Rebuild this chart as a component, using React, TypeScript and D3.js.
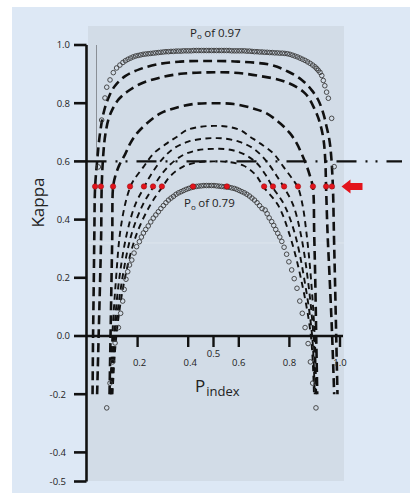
import React from "react";
import * as d3 from "d3";

type Pt = [number, number];

// ---- axis ticks ----
const yTicks = [1.0, 0.8, 0.6, 0.4, 0.2, 0.0, -0.2, -0.4, -0.5];
const yTickLabels = ["1.0", "0.8", "0.6", "0.4", "0.2", "0.0", "-0.2", "-0.4", "-0.5"];
const xTicks = [0.2, 0.4, 0.5, 0.6, 0.8, 1.0];
const xTickLabels = ["0.2", "0.4", "0.5", "0.6", "0.8", "1.0"];
const xTickRaised = [false, false, true, false, false, false];

// ---- reference line & marked crossings ----
const referenceKappa = 0.6;
const markedKappa = 0.514;
const markedPindex = [0.032, 0.055, 0.103, 0.17, 0.225, 0.261, 0.296, 0.419, 0.553, 0.7, 0.735, 0.779, 0.834, 0.893, 0.945, 0.968];

// ---- Po = 0.97 (open circles) ----
const poHighCircles: Pt[] = [
  [0.045, 0.581], [0.058, 0.742], [0.071, 0.818], [0.078, 0.855], [0.091, 0.88],
  [0.104, 0.905], [0.117, 0.921], [0.13, 0.931], [0.142, 0.94], [0.152, 0.946], [0.162, 0.951], [0.172, 0.955],
  [0.182, 0.959], [0.192, 0.962], [0.202, 0.964], [0.212, 0.966], [0.222, 0.968], [0.232, 0.969], [0.242, 0.97],
  [0.252, 0.971], [0.262, 0.972], [0.272, 0.973], [0.282, 0.974], [0.292, 0.975], [0.302, 0.976], [0.312, 0.977],
  [0.322, 0.977], [0.332, 0.978], [0.342, 0.978], [0.352, 0.979], [0.362, 0.979], [0.372, 0.979], [0.382, 0.98],
  [0.392, 0.98], [0.402, 0.98], [0.412, 0.98], [0.422, 0.981], [0.432, 0.981], [0.442, 0.981], [0.452, 0.981],
  [0.462, 0.981], [0.472, 0.981], [0.482, 0.981], [0.492, 0.981], [0.502, 0.981], [0.512, 0.981], [0.522, 0.981],
  [0.532, 0.981], [0.542, 0.981], [0.552, 0.981], [0.562, 0.981], [0.572, 0.98], [0.582, 0.98], [0.592, 0.98],
  [0.602, 0.98], [0.612, 0.98], [0.622, 0.98], [0.632, 0.979], [0.642, 0.979], [0.652, 0.978], [0.662, 0.977],
  [0.672, 0.977], [0.682, 0.976], [0.692, 0.976], [0.702, 0.975], [0.712, 0.975], [0.722, 0.974], [0.732, 0.974],
  [0.742, 0.973], [0.752, 0.973], [0.762, 0.972], [0.772, 0.972], [0.782, 0.971], [0.792, 0.97], [0.802, 0.968],
  [0.812, 0.965], [0.822, 0.962], [0.832, 0.959], [0.842, 0.955], [0.852, 0.951], [0.862, 0.947], [0.872, 0.942],
  [0.882, 0.937], [0.892, 0.931], [0.901, 0.925], [0.908, 0.919], [0.914, 0.913], [0.921, 0.906], [0.928, 0.895],
  [0.934, 0.878], [0.940, 0.86], [0.947, 0.838], [0.954, 0.817], [0.967, 0.748], [0.977, 0.582],
];

// ---- Po = 0.79 (open circles) ----
const poLowCircles: Pt[] = [
  [0.078, -0.247], [0.091, -0.162], [0.101, -0.089], [0.111, -0.024], [0.124, 0.029], [0.133, 0.078], [0.141, 0.12],
  [0.147, 0.16], [0.154, 0.195], [0.161, 0.221], [0.168, 0.244], [0.177, 0.261], [0.186, 0.285], [0.196, 0.307],
  [0.207, 0.324], [0.215, 0.34], [0.223, 0.354], [0.232, 0.366], [0.242, 0.378], [0.252, 0.392], [0.262, 0.405],
  [0.272, 0.416], [0.282, 0.427], [0.292, 0.438], [0.302, 0.448], [0.312, 0.458], [0.322, 0.467], [0.332, 0.474],
  [0.342, 0.48], [0.352, 0.487], [0.362, 0.492], [0.372, 0.496], [0.382, 0.5], [0.392, 0.504], [0.402, 0.507],
  [0.412, 0.51], [0.422, 0.512], [0.432, 0.514], [0.442, 0.515], [0.452, 0.516], [0.462, 0.517], [0.472, 0.517],
  [0.482, 0.517], [0.492, 0.517], [0.502, 0.517], [0.512, 0.516], [0.522, 0.515], [0.532, 0.514], [0.542, 0.513],
  [0.552, 0.512], [0.562, 0.511], [0.572, 0.509], [0.582, 0.507], [0.592, 0.504], [0.602, 0.5], [0.612, 0.496],
  [0.622, 0.492], [0.632, 0.487], [0.642, 0.481], [0.652, 0.474], [0.662, 0.467], [0.672, 0.458], [0.682, 0.448],
  [0.692, 0.438], [0.704, 0.433], [0.712, 0.42], [0.72, 0.406], [0.73, 0.393], [0.738, 0.38], [0.746, 0.366],
  [0.754, 0.353], [0.762, 0.34], [0.77, 0.325], [0.779, 0.305], [0.789, 0.281], [0.798, 0.255], [0.809, 0.227],
  [0.819, 0.197], [0.83, 0.164], [0.841, 0.12], [0.851, 0.078], [0.862, 0.029], [0.874, -0.026], [0.883, -0.089],
  [0.892, -0.162], [0.905, -0.247],
];

// ---- intermediate Po (dashed) ----
const dashB: Pt[] = [
  [0.022, -0.2], [0.024, 0.0], [0.027, 0.2], [0.029, 0.35], [0.032, 0.51], [0.04, 0.6], [0.052, 0.7], [0.068, 0.775],
  [0.088, 0.825], [0.111, 0.86], [0.151, 0.893], [0.209, 0.917], [0.28, 0.934], [0.368, 0.943], [0.466, 0.945],
  [0.597, 0.943], [0.73, 0.931], [0.796, 0.908], [0.849, 0.88], [0.888, 0.845], [0.914, 0.811], [0.934, 0.765],
  [0.947, 0.719], [0.958, 0.674], [0.965, 0.62], [0.972, 0.51], [0.976, 0.35], [0.98, 0.2], [0.985, 0.0], [0.99, -0.2],
];
const dashC: Pt[] = [
  [0.04, -0.2], [0.046, 0.0], [0.052, 0.2], [0.056, 0.35], [0.058, 0.51], [0.064, 0.62], [0.072, 0.69], [0.085, 0.745],
  [0.1, 0.778], [0.124, 0.812], [0.16, 0.84], [0.21, 0.866], [0.28, 0.886], [0.37, 0.901], [0.48, 0.906], [0.58, 0.905],
  [0.68, 0.894], [0.783, 0.874], [0.862, 0.834], [0.901, 0.777], [0.921, 0.731], [0.935, 0.674], [0.942, 0.6],
  [0.945, 0.51], [0.951, 0.35], [0.959, 0.2], [0.969, 0.0], [0.977, -0.2],
];
const dashD: Pt[] = [
  [0.089, -0.2], [0.093, 0.0], [0.097, 0.2], [0.1, 0.35], [0.103, 0.51], [0.112, 0.55], [0.128, 0.588], [0.151, 0.625],
  [0.171, 0.662], [0.198, 0.697], [0.237, 0.731], [0.29, 0.765], [0.343, 0.782], [0.42, 0.797], [0.5, 0.8], [0.58, 0.797],
  [0.657, 0.782], [0.71, 0.765], [0.763, 0.731], [0.802, 0.697], [0.829, 0.662], [0.849, 0.625], [0.868, 0.585],
  [0.883, 0.545], [0.893, 0.51], [0.898, 0.35], [0.902, 0.2], [0.906, 0.0], [0.91, -0.2],
];
const dashE: Pt[] = [
  [0.092, -0.2], [0.1, 0.0], [0.115, 0.2], [0.13, 0.35], [0.15, 0.45], [0.17, 0.51], [0.185, 0.536], [0.224, 0.582],
  [0.264, 0.628], [0.316, 0.662], [0.356, 0.685], [0.395, 0.708], [0.45, 0.719], [0.5, 0.722], [0.55, 0.72], [0.605, 0.708],
  [0.644, 0.685], [0.684, 0.662], [0.736, 0.628], [0.776, 0.582], [0.815, 0.536], [0.834, 0.51], [0.852, 0.45],
  [0.868, 0.35], [0.885, 0.2], [0.9, 0.0], [0.906, -0.2],
];
const dashF: Pt[] = [
  [0.095, -0.2], [0.106, 0.0], [0.128, 0.2], [0.157, 0.35], [0.19, 0.45], [0.225, 0.51], [0.25, 0.55], [0.29, 0.6],
  [0.34, 0.643], [0.4, 0.668], [0.46, 0.678], [0.5, 0.68], [0.54, 0.679], [0.6, 0.668], [0.66, 0.643], [0.71, 0.6],
  [0.75, 0.55], [0.779, 0.51], [0.815, 0.45], [0.845, 0.35], [0.872, 0.2], [0.895, 0.0], [0.903, -0.2],
];
const dashG: Pt[] = [
  [0.098, -0.2], [0.111, 0.0], [0.14, 0.2], [0.176, 0.35], [0.22, 0.45], [0.261, 0.51], [0.29, 0.55], [0.33, 0.59],
  [0.38, 0.622], [0.44, 0.639], [0.5, 0.643], [0.56, 0.641], [0.62, 0.625], [0.67, 0.595], [0.705, 0.555], [0.735, 0.51],
  [0.78, 0.45], [0.822, 0.35], [0.858, 0.2], [0.89, 0.0], [0.9, -0.2],
];
const dashI: Pt[] = [
  [0.101, -0.2], [0.116, 0.0], [0.15, 0.2], [0.196, 0.35], [0.25, 0.45], [0.296, 0.51], [0.33, 0.55], [0.38, 0.582],
  [0.44, 0.597], [0.5, 0.6], [0.56, 0.598], [0.62, 0.585], [0.665, 0.555], [0.7, 0.51], [0.755, 0.45], [0.8, 0.35],
  [0.845, 0.2], [0.885, 0.0], [0.897, -0.2],
];

const dashedSeries = [
  { data: dashB, heavy: true },
  { data: dashC, heavy: true },
  { data: dashD, heavy: true },
  { data: dashE, heavy: false },
  { data: dashF, heavy: false },
  { data: dashG, heavy: false },
  { data: dashI, heavy: false },
];

const FONT = "'Open Sans', 'Noto Sans', 'Liberation Sans', sans-serif";

export default function App() {
  const x = d3.scaleLinear().domain([0, 1]).range([87, 340]);
  const y = d3.scaleLinear().domain([-0.5, 1]).range([481.5, 45]);
  const line = d3
    .line<Pt>()
    .x((d) => x(d[0]))
    .y((d) => y(d[1]))
    .curve(d3.curveCatmullRom.alpha(0.5));

  const axisX = x(0) - 0.5;
  const y0 = y(0);
  const yMark = y(markedKappa);
  const tipX = x(1) + 1.5;

  return (
    <div style={{ position: "absolute", left: 0, top: 0 }}>
      <svg width={410} height={496} style={{ display: "block" }}>
        <rect x={0} y={0} width={410} height={496} fill="#ffffff" />
        <rect x={12} y={7} width={398} height={486} fill="#dde8f5" />
        <rect x={88} y={26} width={256} height={455} fill="#d2dce7" />
        <line x1={88} x2={344} y1={243} y2={243} stroke="#dfe7f0" strokeWidth={0.8} />
        <line x1={96.5} x2={96.5} y1={y(1.0)} y2={155} stroke="#8a8f96" strokeWidth={1} />

        {/* dashed curves */}
        {dashedSeries.map((s, i) => (
          <path
            key={i}
            d={line(s.data) || ""}
            fill="none"
            stroke="#111"
            strokeWidth={s.heavy ? 2.6 : 1.9}
            strokeDasharray={s.heavy ? "9 5" : "6 4.5"}
          />
        ))}

        {/* circle curves */}
        {poHighCircles.map((d, i) => (
          <circle key={"h" + i} cx={x(d[0])} cy={y(d[1])} r={2.3} fill="none" stroke="#3a3a3a" strokeWidth={0.9} />
        ))}
        {poLowCircles.map((d, i) => (
          <circle key={"l" + i} cx={x(d[0])} cy={y(d[1])} r={2.3} fill="none" stroke="#3a3a3a" strokeWidth={0.9} />
        ))}

        {/* reference dash-dot line */}
        <line
          x1={axisX}
          x2={402}
          y1={y(referenceKappa)}
          y2={y(referenceKappa)}
          stroke="#111"
          strokeWidth={2.4}
          strokeDasharray="20 9 2 8 2 9"
        />

        {/* axes */}
        <line x1={axisX} x2={axisX} y1={y(1.0)} y2={y(-0.5)} stroke="#111" strokeWidth={2.6} />
        {yTicks.map((t, i) => (
          <g key={"yt" + i}>
            <line x1={74} x2={axisX} y1={y(t)} y2={y(t)} stroke="#111" strokeWidth={2.6} />
            <text
              x={t < 0 ? 66 : 70}
              y={y(t) + 3.4}
              fontSize={9.5}
              fontFamily={FONT}
              textAnchor="end"
              fill="#222"
            >
              {yTickLabels[i]}
            </text>
          </g>
        ))}
        <line x1={axisX} x2={343} y1={y0} y2={y0} stroke="#111" strokeWidth={2.6} />
        {xTicks.map((t, i) => (
          <g key={"xt" + i}>
            <line x1={x(t)} x2={x(t)} y1={y0} y2={y0 + 11} stroke="#111" strokeWidth={2.4} />
            <text
              x={x(t) + (i < 2 ? 2 : 0)}
              y={xTickRaised[i] ? 357 : 366}
              fontSize={9.5}
              fontFamily={FONT}
              textAnchor="middle"
              fill="#222"
            >
              {xTickLabels[i]}
            </text>
          </g>
        ))}

        {/* marked kappa crossings */}
        {markedPindex.map((p, i) => (
          <circle key={"r" + i} cx={x(p)} cy={yMark} r={2.7} fill="#e3141c" stroke="#8a0a0a" strokeWidth={0.5} />
        ))}

        {/* arrow */}
        <path
          d={`M${tipX},${yMark} L${tipX + 9},${yMark - 7} L${tipX + 9},${yMark - 3.5} L${tipX + 21},${yMark - 3.5} L${tipX + 21},${yMark + 3.5} L${tipX + 9},${yMark + 3.5} L${tipX + 9},${yMark + 7} Z`}
          fill="#e3141c"
        />

        {/* labels */}
        <text x={190} y={36.5} fontSize={11.5} fontFamily={FONT} fill="#222">
          P<tspan fontSize={8} dy={2.5}>o</tspan>
          <tspan dy={-2.5} dx={2.5}>of 0.97</tspan>
        </text>
        <text x={184} y={207} fontSize={11.5} fontFamily={FONT} fill="#222">
          P<tspan fontSize={8} dy={2.5}>o</tspan>
          <tspan dy={-2.5} dx={2.5}>of 0.79</tspan>
        </text>
        <text
          transform="translate(44,202.5) rotate(-90)"
          fontSize={17}
          fontFamily={FONT}
          textAnchor="middle"
          fill="#222"
        >
          Kappa
        </text>
        <text x={195} y={392} fontSize={17} fontFamily={FONT} fill="#222">
          P<tspan fontSize={13} dy={4} dx={1}>index</tspan>
        </text>
      </svg>
    </div>
  );
}
